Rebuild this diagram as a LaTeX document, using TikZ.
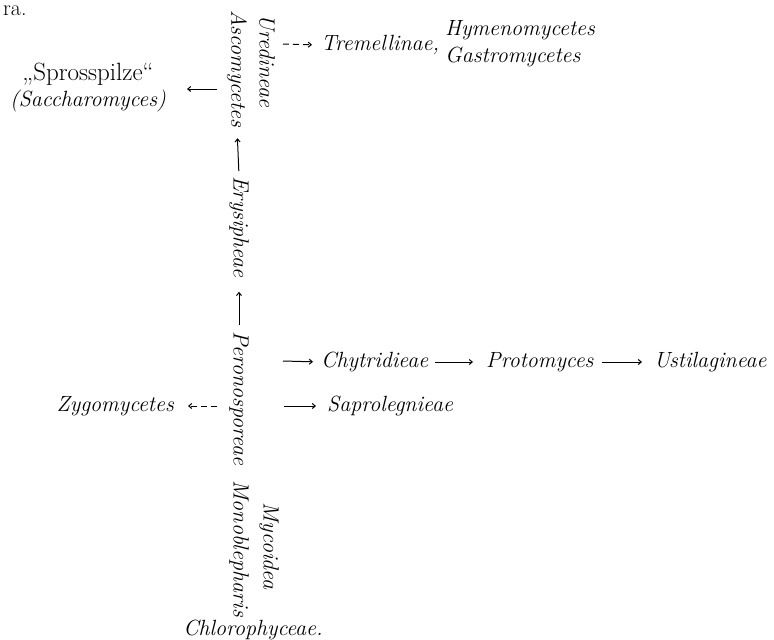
\documentclass[tikz,border=0pt]{standalone}
\usepackage{tikz}
\usetikzlibrary{positioning,arrows.meta}
\tikzset{
gruppe/.style = {inner sep=1pt, font=\fontsize{22}{27}\selectfont\itshape},
senkrecht/.style = {gruppe, rotate=-90},
pfeil/.style = {line width=1pt, -{Straight Barb[length=3pt,width=5pt]}},
pfeilgestr/.style = {pfeil, dash pattern=on 6pt off 4pt}
}
\begin{document}
\begin{tikzpicture}[x=1pt,y=-1pt]
\useasboundingbox (0,0) rectangle (774,640);
\node [gruppe, font=\fontsize{22}{27}\selectfont, anchor=base west] (rest) at (2,15) {ra.};
% main stem
\node [senkrecht] (asco) at (237,69) {Ascomycetes};
\node [senkrecht] (ured) at (267,61) {Uredineae};
\node [senkrecht] (erys) at (239,227) {Erysipheae};
\node [senkrecht, anchor=west] (pero) at (239,330) {Peronosporeae};
\node [senkrecht, anchor=east] (mono) at (239,618) {Monoblepharis};
\node [senkrecht] (myco) at (269,546) {Mycoidea};
\node [gruppe] (chloro) at (253,630) {Chlorophyceae.};
% side groups
\node [gruppe, font=\fontsize{25}{30}\selectfont] (spross) at (88,74) {„Sprosspilze“};
\node [gruppe, below=2pt of spross] (sacch) {(Saccharomyces)};
\node [gruppe, anchor=west] (trem) at (320,45) {Tremellinae,};
\node [gruppe, anchor=west, align=left] (hymen) at (444,44) {Hymenomycetes\\Gastromycetes};
\node [gruppe, anchor=west] (chyt) at (320,362) {Chytridieae};
\node [gruppe, anchor=west] (proto) at (485,362) {Protomyces};
\node [gruppe, anchor=west] (ustil) at (653,362) {Ustilagineae};
\node [gruppe, anchor=west] (sapro) at (326,406) {Saprolegnieae};
\node [gruppe, anchor=east] (zygo) at (175,406) {Zygomycetes};
% arrow starts
\coordinate (a1) at (217,89);
\coordinate (a1e) at (187,89);
\coordinate (a2) at (283,44);
\coordinate (a3) at (283,361);
\coordinate (a4) at (284,406);
\coordinate (a5) at (217,406);
% arrows
\draw [pfeil] (a1) -- (a1e);
\draw [pfeilgestr, shorten >=8pt] (a2) -- (trem.west);
\draw [pfeil, shorten <=4pt, shorten >=10pt] (erys.west) -- (asco.east);
\draw [pfeil, shorten <=5pt, shorten >=13pt] (pero.west) -- (erys.east);
\draw [pfeil, shorten >=7pt] (a3) -- (chyt.west);
\draw [pfeil, shorten <=6pt, shorten >=12pt] (chyt.east) -- (proto.west);
\draw [pfeil, shorten <=7pt, shorten >=11pt] (proto.east) -- (ustil.west);
\draw [pfeil, shorten >=10pt] (a4) -- (sapro.west);
\draw [pfeilgestr] (a5) -- ([xshift=13pt]zygo.east);
\end{tikzpicture}
\end{document}
